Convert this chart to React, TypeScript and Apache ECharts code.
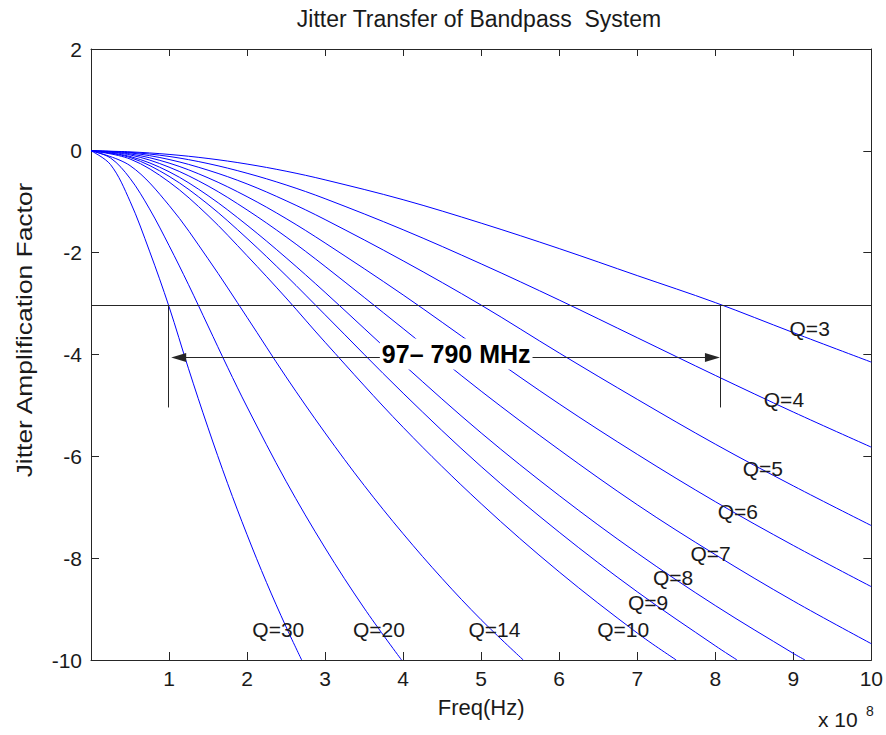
import React, { useEffect, useRef } from "react";
import * as echarts from "echarts";

// Frequency axis is in units of 1e8 Hz; amplitudes are the jitter transfer in dB.
const Q_NAMES = ["Q=3", "Q=4", "Q=5", "Q=6", "Q=7", "Q=8", "Q=9", "Q=10", "Q=14", "Q=20", "Q=30"];

const curveQ3: [number, number][] = [
  [0, 0], [0.5, -0.02], [1, -0.07], [1.5, -0.15], [2, -0.26], [2.5, -0.4], [3, -0.57],
  [4, -0.96], [5, -1.42], [6, -1.92], [7, -2.45], [8, -2.98], [9, -3.57], [10, -4.15],
];
const curveQ4: [number, number][] = [
  [0, 0], [0.5, -0.03], [1, -0.11], [1.5, -0.25], [2, -0.44], [2.5, -0.67], [3, -0.94],
  [4, -1.55], [5, -2.22], [6, -2.93], [7, -3.67], [8, -4.41], [9, -5.13], [10, -5.82],
];
const curveQ5: [number, number][] = [
  [0, 0], [0.5, -0.04], [1, -0.17], [1.5, -0.38], [2, -0.65], [2.5, -0.98], [3, -1.35],
  [4, -2.16], [5, -3.03], [6, -3.97], [7, -4.88], [8, -5.76], [9, -6.58], [10, -7.36],
];
const curveQ6: [number, number][] = [
  [0, 0], [0.5, -0.06], [1, -0.24], [1.5, -0.53], [2, -0.9], [2.5, -1.33], [3, -1.81],
  [4, -2.83], [5, -3.91], [6, -4.97], [7, -5.96], [8, -6.89], [9, -7.75], [10, -8.56],
];
const curveQ7: [number, number][] = [
  [0, 0], [0.5, -0.08], [1, -0.32], [1.5, -0.69], [2, -1.16], [2.5, -1.69], [3, -2.27],
  [4, -3.49], [5, -4.72], [6, -5.87], [7, -6.95], [8, -7.93], [9, -8.84], [10, -9.68],
];
const curveQ8: [number, number][] = [
  [0, 0], [0.5, -0.11], [1, -0.41], [1.5, -0.88], [2, -1.46], [2.5, -2.1], [3, -2.78],
  [4, -4.19], [5, -5.54], [6, -6.77], [7, -7.9], [8, -8.93], [9, -9.87], [9.15, -10],
];
const curveQ9: [number, number][] = [
  [0, 0], [0.5, -0.13], [1, -0.5], [1.5, -1.05], [2, -1.72], [2.5, -2.45], [3, -3.22],
  [4, -4.76], [5, -6.2], [6, -7.49], [7, -8.66], [8, -9.72], [8.28, -10],
];
const curveQ10: [number, number][] = [
  [0, 0], [0.5, -0.16], [1, -0.61], [1.5, -1.27], [2, -2.06], [2.5, -2.89], [3, -3.76],
  [4, -5.43], [5, -6.93], [6, -8.27], [7, -9.47], [7.5, -10],
];
const curveQ14: [number, number][] = [
  [0, 0], [0.5, -0.29], [1, -1.07], [1.5, -2.12], [2, -3.27], [2.5, -4.44], [3, -5.54],
  [3.5, -6.57], [4, -7.52], [4.5, -8.4], [5, -9.21], [5.54, -10],
];
const curveQ20: [number, number][] = [
  [0, 0], [0.25, -0.14], [0.5, -0.54], [0.75, -1.14], [1, -1.86], [1.25, -2.63], [1.5, -3.44],
  [1.75, -4.25], [2, -5.03], [2.5, -6.49], [3, -7.8], [3.5, -8.98], [3.98, -10],
];
const curveQ30: [number, number][] = [
  [0, 0], [0.25, -0.27], [0.5, -0.99], [0.75, -1.97], [1, -3.06], [1.25, -4.28], [1.5, -5.44],
  [1.75, -6.53], [2, -7.54], [2.25, -8.48], [2.5, -9.35], [2.7, -10],
];

const CURVES = [curveQ3, curveQ4, curveQ5, curveQ6, curveQ7, curveQ8, curveQ9, curveQ10, curveQ14, curveQ20, curveQ30];

// Where each curve's Q label sits (data coordinates)
const LABEL_SPOTS: [number, number][] = [
  [9.21, -3.48], [8.88, -4.88], [8.61, -6.23], [8.29, -7.09], [7.94, -7.9], [7.46, -8.38],
  [7.14, -8.88], [6.82, -9.4], [5.17, -9.4], [3.69, -9.4], [2.4, -9.4],
];

// -3 dB bandwidth markers
const THRESHOLD_DB = -3.04;
const BAND_LOW = 0.99;
const BAND_HIGH = 8.06;
const MARKER_BOTTOM = -5.04;
const ARROW_LEVEL = -4.06;
const ARROW_FROM = 1.124;
const ARROW_TO = 7.964;
const BAND_TEXT = "97\u2013 790 MHz";
const BAND_TEXT_SPOT: [number, number] = [4.68, -3.99];

const X_TICKS_MIN = 0;
const X_TICKS_MAX = 10;
const Y_TICKS_MIN = -10;
const Y_TICKS_MAX = 2;

const FONT = '"Liberation Sans", Arial, Helvetica, sans-serif';
const INK = "#1a1a1a";
const AXIS_INK = "#262626";

export default function App() {
  const ref = useRef<HTMLDivElement>(null);

  useEffect(() => {
    if (!ref.current) return;
    const chart = echarts.init(ref.current, null, { renderer: "svg" });

    const axisLine = { show: true, onZero: false, lineStyle: { color: AXIS_INK, width: 1 } };
    const tickStyle = { inside: true, length: 8, lineStyle: { color: AXIS_INK, width: 1 } };
    const labelStyle = { fontFamily: FONT, fontSize: 21, color: INK };

    const curveSeries = CURVES.map((data, i) => ({
      name: Q_NAMES[i],
      type: "line",
      data,
      showSymbol: false,
      smooth: 0.35,
      lineStyle: { color: "#0000ff", width: 1 },
      itemStyle: { color: "#0000ff" },
      silent: true,
      z: 2,
    }));

    const option = {
      animation: false,
      backgroundColor: "#ffffff",
      title: {
        text: "Jitter Transfer of Bandpass  System",
        left: 474,
        top: 2,
        textAlign: "center",
        textStyle: { fontFamily: FONT, fontSize: 23, fontWeight: "normal", color: INK },
      },
      grid: { left: 91, right: 14, top: 49, bottom: 75 },
      xAxis: [
        {
          type: "value",
          position: "bottom",
          min: X_TICKS_MIN,
          max: X_TICKS_MAX,
          interval: 1,
          axisLine,
          axisTick: tickStyle,
          splitLine: { show: false },
          axisLabel: {
            ...labelStyle,
            margin: 8,
            formatter: (v: number) => (v === 0 ? "" : String(v)),
          },
          name: "Freq(Hz)",
          nameLocation: "middle",
          nameGap: 36,
          nameTextStyle: { fontFamily: FONT, fontSize: 22, color: INK },
        },
        {
          type: "value",
          position: "top",
          min: X_TICKS_MIN,
          max: X_TICKS_MAX,
          interval: 1,
          axisLine,
          axisTick: { ...tickStyle, length: 7 },
          axisLabel: { show: false },
          splitLine: { show: false },
        },
      ],
      yAxis: [
        {
          type: "value",
          position: "left",
          min: Y_TICKS_MIN,
          max: Y_TICKS_MAX,
          interval: 2,
          axisLine,
          axisTick: tickStyle,
          splitLine: { show: false },
          axisLabel: { ...labelStyle, margin: 9 },
        },
        {
          type: "value",
          position: "right",
          min: Y_TICKS_MIN,
          max: Y_TICKS_MAX,
          interval: 2,
          axisLine,
          axisTick: tickStyle,
          axisLabel: { show: false },
          splitLine: { show: false },
        },
      ],
      series: [
        ...curveSeries,
        {
          name: "bandwidth",
          type: "line",
          data: [],
          silent: true,
          z: 3,
          markLine: {
            silent: true,
            animation: false,
            symbol: "none",
            label: { show: false },
            lineStyle: { color: AXIS_INK, width: 1, type: "solid" },
            emphasis: { disabled: true },
            data: [
              { yAxis: THRESHOLD_DB },
              [{ coord: [BAND_LOW, THRESHOLD_DB] }, { coord: [BAND_LOW, MARKER_BOTTOM] }],
              [{ coord: [BAND_HIGH, THRESHOLD_DB] }, { coord: [BAND_HIGH, MARKER_BOTTOM] }],
              [
                { coord: [ARROW_FROM, ARROW_LEVEL], symbol: "triangle", symbolSize: [9, 15] },
                { coord: [ARROW_TO, ARROW_LEVEL], symbol: "triangle", symbolSize: [9, 15] },
              ],
            ],
          },
        },
        {
          name: "band text",
          type: "scatter",
          data: [{ name: BAND_TEXT, value: BAND_TEXT_SPOT }],
          symbolSize: 1,
          itemStyle: { color: "rgba(0,0,0,0)", opacity: 1 },
          silent: true,
          z: 5,
          label: {
            show: true,
            position: "inside",
            formatter: (p: any) => p.name,
            fontFamily: FONT,
            fontSize: 25,
            fontWeight: "bold",
            color: "#000000",
            textBorderWidth: 0,
            backgroundColor: "#ffffff",
            padding: [3, 2],
          },
        },
        {
          name: "q labels",
          type: "scatter",
          data: LABEL_SPOTS.map((p, i) => ({ name: Q_NAMES[i], value: p })),
          symbolSize: 1,
          itemStyle: { color: "rgba(0,0,0,0)", opacity: 1 },
          silent: true,
          z: 4,
          label: {
            show: true,
            position: "inside",
            formatter: (p: any) => p.name,
            fontFamily: FONT,
            fontSize: 21,
            color: INK,
            textBorderWidth: 0,
          },
        },
      ],
      graphic: [
        {
          type: "text",
          x: 24,
          y: 330,
          rotation: Math.PI / 2,
          scaleX: 1.2,
          silent: true,
          style: {
            text: "Jitter Amplification Factor",
            font: `22px ${FONT}`,
            fill: INK,
            align: "center",
            verticalAlign: "middle",
          },
        },
        {
          type: "text",
          left: 818,
          top: 709,
          silent: true,
          style: { text: "x 10", font: `21px ${FONT}`, fill: INK },
        },
        {
          type: "text",
          left: 866,
          top: 704,
          silent: true,
          style: { text: "8", font: `14px ${FONT}`, fill: INK },
        },
      ],
    };

    chart.setOption(option as any);
    return () => chart.dispose();
  }, []);

  return (
    <div
      ref={ref}
      style={{ position: "absolute", left: 0, top: 0, width: 886, height: 735, background: "#fff" }}
    />
  );
}
